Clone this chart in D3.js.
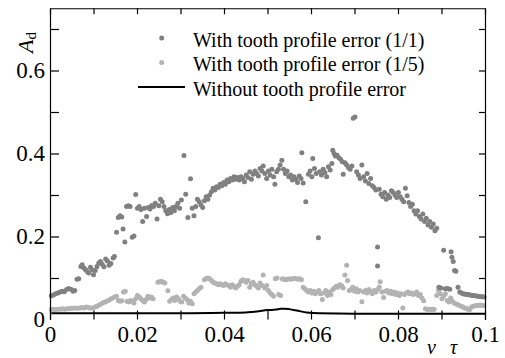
<!DOCTYPE html>
<html>
<head>
<meta charset="utf-8">
<script src="https://cdn.jsdelivr.net/npm/d3@7"></script>
<style>
  body { margin: 0; background: #fff; }
</style>
</head>
<body>
<script>
// Datos: [nu*tau, A_d]
var errorFull = [
  [0.0003,0.057],[0.0008,0.059],[0.0013,0.062],[0.0018,0.064],[0.0023,0.066],[0.0028,0.068],[0.0033,0.067],[0.0038,0.072],
  [0.0043,0.075],[0.0048,0.073],[0.0053,0.068],[0.0057,0.070],[0.0062,0.097],[0.0066,0.098],[0.0071,0.128],[0.0074,0.132],
  [0.0078,0.124],[0.0082,0.120],[0.0085,0.116],[0.0089,0.112],[0.0093,0.126],[0.0097,0.119],[0.0100,0.108],[0.0104,0.118],
  [0.0108,0.128],[0.0112,0.136],[0.0116,0.140],[0.0120,0.133],[0.0124,0.127],[0.0128,0.146],[0.0132,0.141],[0.0136,0.131],
  [0.0140,0.135],[0.0145,0.148],[0.0148,0.152],[0.0153,0.210],[0.0157,0.246],[0.0161,0.250],[0.0165,0.247],[0.0168,0.218],
  [0.0172,0.187],[0.0176,0.272],[0.0180,0.274],[0.0184,0.272],[0.0189,0.198],[0.0193,0.201],[0.0197,0.301],[0.0201,0.268],
  [0.0205,0.272],[0.0209,0.265],[0.0213,0.236],[0.0217,0.268],[0.0222,0.248],[0.0226,0.270],[0.0230,0.266],[0.0234,0.275],
  [0.0238,0.272],[0.0242,0.280],[0.0246,0.242],[0.0250,0.274],[0.0254,0.290],[0.0258,0.284],[0.0262,0.272],[0.0266,0.262],
  [0.0270,0.255],[0.0274,0.265],[0.0278,0.258],[0.0282,0.270],[0.0286,0.262],[0.0290,0.272],[0.0294,0.280],[0.0298,0.268],
  [0.0302,0.288],[0.0308,0.395],[0.0312,0.302],[0.0317,0.246],[0.0323,0.339],[0.0327,0.268],[0.0331,0.250],[0.0335,0.272],
  [0.0339,0.290],[0.0343,0.284],[0.0347,0.276],[0.0351,0.270],[0.0355,0.286],[0.0359,0.296],[0.0363,0.290],[0.0367,0.300],
  [0.0371,0.308],[0.0375,0.316],[0.0379,0.312],[0.0383,0.320],[0.0387,0.318],[0.0391,0.326],[0.0395,0.322],[0.0399,0.330],
  [0.0403,0.326],[0.0407,0.336],[0.0411,0.332],[0.0415,0.340],[0.0419,0.336],[0.0423,0.344],[0.0427,0.338],[0.0431,0.342],
  [0.0435,0.336],[0.0439,0.344],[0.0443,0.340],[0.0447,0.332],[0.0451,0.348],[0.0455,0.342],[0.0459,0.356],[0.0463,0.338],
  [0.0467,0.350],[0.0471,0.358],[0.0475,0.352],[0.0479,0.346],[0.0483,0.364],[0.0487,0.358],[0.0490,0.370],[0.0494,0.352],
  [0.0498,0.340],[0.0502,0.358],[0.0506,0.348],[0.0510,0.362],[0.0514,0.344],[0.0517,0.326],[0.0521,0.356],[0.0525,0.362],
  [0.0529,0.372],[0.0533,0.384],[0.0537,0.362],[0.0541,0.352],[0.0545,0.358],[0.0549,0.344],[0.0553,0.348],[0.0557,0.336],
  [0.0561,0.344],[0.0565,0.338],[0.0569,0.330],[0.0573,0.346],[0.0577,0.340],[0.0579,0.402],[0.0582,0.329],[0.0588,0.284],
  [0.0594,0.350],[0.0598,0.358],[0.0602,0.344],[0.0604,0.388],[0.0608,0.364],[0.0612,0.352],[0.0617,0.197],[0.0620,0.356],
  [0.0624,0.348],[0.0628,0.362],[0.0632,0.354],[0.0636,0.344],[0.0640,0.368],[0.0644,0.360],[0.0648,0.376],[0.0650,0.408],
  [0.0653,0.400],[0.0656,0.394],[0.0660,0.396],[0.0664,0.390],[0.0668,0.386],[0.0672,0.380],[0.0674,0.350],[0.0678,0.378],
  [0.0682,0.372],[0.0686,0.366],[0.0690,0.362],[0.0694,0.370],[0.0697,0.485],[0.0701,0.488],[0.0705,0.356],[0.0709,0.348],
  [0.0713,0.340],[0.0717,0.372],[0.0721,0.344],[0.0725,0.334],[0.0729,0.352],[0.0733,0.328],[0.0737,0.340],[0.0741,0.322],
  [0.0745,0.318],[0.0749,0.312],[0.0753,0.175],[0.0753,0.129],[0.0757,0.314],[0.0761,0.302],[0.0765,0.296],[0.0769,0.306],
  [0.0773,0.290],[0.0777,0.300],[0.0781,0.294],[0.0785,0.310],[0.0789,0.306],[0.0793,0.300],[0.0797,0.294],[0.0801,0.306],
  [0.0805,0.296],[0.0809,0.290],[0.0813,0.284],[0.0817,0.316],[0.0821,0.298],[0.0825,0.282],[0.0829,0.272],[0.0833,0.278],
  [0.0837,0.262],[0.0841,0.254],[0.0845,0.262],[0.0849,0.248],[0.0853,0.242],[0.0857,0.254],[0.0861,0.236],[0.0865,0.244],
  [0.0869,0.228],[0.0873,0.236],[0.0877,0.222],[0.0881,0.230],[0.0885,0.214],[0.0889,0.220],[0.0894,0.078],[0.0899,0.076],
  [0.0905,0.167],[0.0909,0.074],[0.0914,0.075],[0.0919,0.073],[0.0922,0.163],[0.0924,0.150],[0.0927,0.140],[0.0930,0.118],
  [0.0933,0.116],[0.0938,0.078],[0.0942,0.066],[0.0946,0.064],[0.0950,0.062],[0.0954,0.061],[0.0958,0.060],[0.0962,0.060],
  [0.0966,0.059],[0.0970,0.058],[0.0974,0.058],[0.0978,0.057],[0.0982,0.056],[0.0986,0.056],[0.0990,0.055],[0.0994,0.055],
  [0.0998,0.054]
]

var errorFifth = [
  [0.0003,0.024],[0.0008,0.025],[0.0013,0.024],[0.0018,0.025],[0.0023,0.025],[0.0028,0.026],[0.0033,0.025],[0.0038,0.026],
  [0.0043,0.026],[0.0048,0.027],[0.0053,0.027],[0.0058,0.028],[0.0063,0.027],[0.0068,0.028],[0.0073,0.029],[0.0078,0.028],
  [0.0083,0.030],[0.0088,0.029],[0.0093,0.028],[0.0098,0.028],[0.0103,0.030],[0.0108,0.032],[0.0113,0.035],[0.0118,0.038],
  [0.0123,0.041],[0.0128,0.043],[0.0133,0.045],[0.0138,0.048],[0.0143,0.051],[0.0148,0.054],[0.0153,0.056],[0.0157,0.046],
  [0.0161,0.044],[0.0165,0.045],[0.0169,0.066],[0.0173,0.068],[0.0177,0.044],[0.0181,0.042],[0.0185,0.046],[0.0189,0.044],
  [0.0193,0.040],[0.0197,0.050],[0.0201,0.058],[0.0205,0.054],[0.0209,0.050],[0.0213,0.046],[0.0217,0.042],[0.0221,0.048],
  [0.0225,0.056],[0.0229,0.052],[0.0233,0.054],[0.0237,0.050],[0.0248,0.090],[0.0252,0.091],[0.0256,0.092],[0.0260,0.090],
  [0.0264,0.088],[0.0271,0.069],[0.0275,0.044],[0.0279,0.048],[0.0283,0.052],[0.0287,0.046],[0.0291,0.054],[0.0295,0.050],
  [0.0299,0.044],[0.0303,0.042],[0.0307,0.056],[0.0311,0.052],[0.0315,0.048],[0.0319,0.040],[0.0323,0.044],[0.0327,0.038],
  [0.0331,0.062],[0.0335,0.066],[0.0339,0.070],[0.0343,0.074],[0.0347,0.078],[0.0355,0.096],[0.0359,0.099],[0.0363,0.100],
  [0.0367,0.098],[0.0371,0.094],[0.0375,0.090],[0.0379,0.088],[0.0383,0.086],[0.0387,0.084],[0.0391,0.086],[0.0395,0.084],
  [0.0399,0.082],[0.0403,0.086],[0.0407,0.084],[0.0411,0.082],[0.0415,0.078],[0.0419,0.084],[0.0423,0.080],[0.0427,0.076],
  [0.0431,0.080],[0.0435,0.084],[0.0439,0.092],[0.0443,0.096],[0.0447,0.094],[0.0451,0.090],[0.0455,0.094],[0.0459,0.078],
  [0.0463,0.086],[0.0467,0.090],[0.0471,0.084],[0.0475,0.080],[0.0479,0.076],[0.0483,0.088],[0.0487,0.082],[0.0490,0.107],
  [0.0494,0.076],[0.0498,0.082],[0.0502,0.070],[0.0506,0.064],[0.0510,0.060],[0.0514,0.056],[0.0518,0.098],[0.0522,0.100],
  [0.0526,0.060],[0.0530,0.058],[0.0534,0.098],[0.0538,0.097],[0.0542,0.096],[0.0546,0.097],[0.0550,0.098],[0.0554,0.097],
  [0.0558,0.098],[0.0562,0.099],[0.0566,0.098],[0.0570,0.097],[0.0574,0.098],[0.0578,0.096],[0.0582,0.078],[0.0586,0.074],
  [0.0590,0.070],[0.0594,0.066],[0.0598,0.070],[0.0602,0.064],[0.0606,0.068],[0.0610,0.062],[0.0614,0.066],[0.0618,0.070],
  [0.0622,0.062],[0.0626,0.048],[0.0630,0.064],[0.0634,0.070],[0.0638,0.058],[0.0642,0.066],[0.0646,0.060],[0.0650,0.072],
  [0.0654,0.076],[0.0658,0.080],[0.0662,0.078],[0.0666,0.084],[0.0670,0.082],[0.0674,0.076],[0.0678,0.107],[0.0682,0.131],
  [0.0684,0.094],[0.0688,0.070],[0.0692,0.072],[0.0696,0.078],[0.0700,0.068],[0.0704,0.074],[0.0708,0.066],[0.0712,0.070],
  [0.0717,0.043],[0.0721,0.066],[0.0725,0.070],[0.0729,0.064],[0.0733,0.072],[0.0737,0.068],[0.0741,0.062],[0.0745,0.070],
  [0.0749,0.066],[0.0753,0.072],[0.0757,0.078],[0.0759,0.091],[0.0763,0.066],[0.0767,0.053],[0.0771,0.068],[0.0775,0.070],
  [0.0779,0.064],[0.0783,0.068],[0.0787,0.062],[0.0791,0.066],[0.0795,0.060],[0.0799,0.064],[0.0803,0.058],[0.0807,0.062],
  [0.0811,0.028],[0.0815,0.060],[0.0819,0.064],[0.0823,0.066],[0.0827,0.062],[0.0831,0.064],[0.0835,0.060],[0.0839,0.062],
  [0.0843,0.066],[0.0847,0.058],[0.0851,0.060],[0.0855,0.052],[0.0859,0.045],[0.0863,0.026],[0.0867,0.024],[0.0871,0.025],
  [0.0875,0.024],[0.0879,0.025],[0.0883,0.024],[0.0889,0.058],[0.0893,0.070],[0.0897,0.062],[0.0901,0.050],[0.0905,0.056],
  [0.0909,0.062],[0.0913,0.046],[0.0917,0.042],[0.0921,0.052],[0.0925,0.044],[0.0929,0.040],[0.0933,0.038],[0.0937,0.036],
  [0.0941,0.034],[0.0945,0.032],[0.0949,0.030],[0.0953,0.028],[0.0957,0.027],[0.0961,0.025],[0.0965,0.024],[0.0969,0.030],
  [0.0973,0.032],[0.0977,0.033],[0.0981,0.034],[0.0985,0.034],[0.0989,0.035],[0.0993,0.034],[0.0997,0.034]
]

var noError = [
  [0.0003,0.015],[0.010,0.015],[0.020,0.015],[0.030,0.015],[0.040,0.016],[0.045,0.017],[0.048,0.020],[0.050,0.023],
  [0.051,0.023],[0.052,0.024],[0.053,0.026],[0.054,0.026],[0.055,0.025],[0.057,0.021],[0.059,0.017],[0.062,0.015],
  [0.070,0.014],[0.080,0.014],[0.090,0.014],[0.100,0.014]
]

var xTicks = [0, 0.01, 0.02, 0.03, 0.04, 0.05, 0.06, 0.07, 0.08, 0.09, 0.1]
var xTickLabels = ["0", "", "0.02", "", "0.04", "", "0.06", "", "0.08", "", "0.1"]
var yTicks = [0, 0.1, 0.2, 0.3, 0.4, 0.5, 0.6, 0.7]
var yTickLabels = ["0", "", "0.2", "", "0.4", "", "0.6", ""]
var legendLabels = ["With tooth profile error (1/1)", "With tooth profile error (1/5)", "Without tooth profile error"]

//Dimensiones
var width = 505
var height = 358
var margin = { top: 8.25, bottom: 38.5, left: 50, right: 20 }

var colorDark = "#808080"
var colorLight = "#b3b3b3"
var serif = "'Liberation Serif', 'Times New Roman', 'DejaVu Serif', serif"

var escalaX = d3.scaleLinear()
  .domain([0, 0.1])
  .range([margin.left, width - margin.right])

var escalaY = d3.scaleLinear()
  .domain([0, 0.75])
  .range([height - margin.bottom, margin.top])

var svg = d3.select("body")
  .append("svg")
  .attr("width", width)
  .attr("height", height)
  .attr("font-family", serif)

//Puntos
svg.append("g").selectAll("circle")
  .data(errorFifth)
  .enter()
  .append("circle")
  .attr("cx", d => escalaX(d[0]))
  .attr("cy", d => escalaY(d[1]))
  .attr("r", 2.5)
  .attr("fill", colorLight)

svg.append("g").selectAll("circle")
  .data(errorFull)
  .enter()
  .append("circle")
  .attr("cx", d => escalaX(d[0]))
  .attr("cy", d => escalaY(d[1]))
  .attr("r", 2.5)
  .attr("fill", colorDark)

//Línea sin error
var linea = d3.line()
  .x(d => escalaX(d[0]))
  .y(d => escalaY(d[1]))
  .curve(d3.curveMonotoneX)

svg.append("path")
  .datum(noError)
  .attr("d", linea)
  .attr("fill", "none")
  .attr("stroke", "#000")
  .attr("stroke-width", 2)

//Ejes
var fmtX = d => xTickLabels[xTicks.indexOf(d)]
var fmtY = d => yTickLabels[yTicks.indexOf(d)]

var ejeX = svg.append("g")
  .attr("transform", "translate(0," + escalaY(0) + ")")
  .call(d3.axisBottom(escalaX).tickValues(xTicks).tickFormat(fmtX).tickSizeInner(-9).tickSizeOuter(0).tickPadding(6.5))
ejeX.select(".domain").remove()

svg.append("g")
  .attr("transform", "translate(0," + escalaY(0.75) + ")")
  .call(d3.axisTop(escalaX).tickValues(xTicks).tickFormat("").tickSizeInner(-6).tickSizeOuter(0))

var ejeY = svg.append("g")
  .attr("transform", "translate(" + margin.left + ",0)")
  .call(d3.axisLeft(escalaY).tickValues(yTicks).tickFormat(fmtY).tickSizeInner(-9).tickSizeOuter(0).tickPadding(5))
ejeY.selectAll(".tick").filter(d => d === 0).select("line").remove()

var ejeYR = svg.append("g")
  .attr("transform", "translate(" + (width - margin.right) + ",0)")
  .call(d3.axisRight(escalaY).tickValues(yTicks).tickFormat("").tickSizeInner(-6).tickSizeOuter(0))
ejeYR.selectAll(".tick").filter(d => d === 0).select("line").remove()

svg.selectAll("g").attr("font-family", serif)
svg.selectAll(".domain, .tick line").attr("stroke", "#000").attr("stroke-width", 1.2)
svg.selectAll(".tick text")
  .attr("font-size", 23)
  .attr("fill", "#000")

//Etiquetas de ejes
svg.append("text")
  .attr("transform", "translate(33,53) rotate(-90)")
  .attr("font-size", 22)
  .attr("font-style", "italic")
  .text("A")
  .append("tspan")
  .attr("font-style", "normal")
  .attr("font-size", 15)
  .attr("dy", 3)
  .text("d")

var xLabel = svg.append("text")
  .attr("y", 354)
  .attr("font-size", 20)
  .attr("font-style", "italic")
xLabel.append("tspan").attr("x", 427).text("\u03bd")
xLabel.append("tspan").attr("x", 450).text("\u03c4")

//Leyenda
var legend = svg.append("g")
var legendY = [46.5, 71, 95.5]
legend.append("circle").attr("cx", 161.7).attr("cy", legendY[0] - 8.5).attr("r", 2.5).attr("fill", colorDark)
legend.append("circle").attr("cx", 161.7).attr("cy", legendY[1] - 8.5).attr("r", 2.5).attr("fill", colorLight)
legend.append("line").attr("x1", 138).attr("x2", 185).attr("y1", legendY[2] - 8.5).attr("y2", legendY[2] - 8.5)
  .attr("stroke", "#000").attr("stroke-width", 2)
legend.selectAll("text")
  .data(legendLabels)
  .enter()
  .append("text")
  .attr("x", 193)
  .attr("y", (d, i) => legendY[i])
  .attr("font-size", 20)
  .text(d => d)
</script>
</body>
</html>
